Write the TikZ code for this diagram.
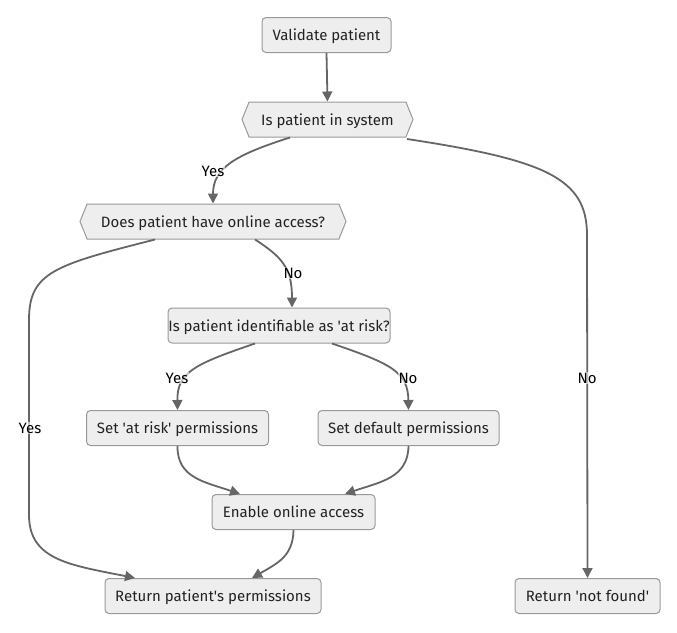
\documentclass[tikz,border=0pt]{standalone}
\usepackage{fontspec}
\setmainfont{Fira Sans}
\usetikzlibrary{arrows.meta,shapes.symbols}
\definecolor{nodefill}{HTML}{EEEEEE}
\definecolor{nodeline}{HTML}{999999}
\definecolor{edgecol}{HTML}{666666}
\definecolor{txtcol}{HTML}{222222}
\newcommand{\sq}{\textquotesingle}
\tikzset{
  box/.style={draw=nodeline, fill=nodefill, line width=1pt, rounded corners=4pt,
    text=txtcol, font=\fontsize{15}{18}\selectfont, inner sep=0pt, minimum height=35pt,
    text height=11pt, text depth=0pt},
  hexa/.style={draw=nodeline, fill=nodefill, line width=1pt, shape=signal,
    signal from=nowhere, signal to=east and west, signal pointer angle=136,
    text=txtcol, font=\fontsize{15}{18}\selectfont, inner sep=0pt, minimum height=35pt,
    text height=11pt, text depth=0pt},
  edge/.style={draw=edgecol, line width=1.8pt, -{Triangle[length=10pt,width=10pt]}},
  elabel/.style={fill=white, fill opacity=0.6, text opacity=1, text=black,
    font=\fontsize{15}{18}\selectfont, inner sep=1pt}
}
\begin{document}
\begin{tikzpicture}[x=1pt,y=-1pt]
\useasboundingbox (0,0) rectangle (677,632);
\node[box, minimum width=129pt] (v) at (326.5,35) {Validate patient};
\node[hexa, minimum width=171pt] (q1) at (327.5,119.5) {Is patient in system};
\node[hexa, minimum width=266pt] (q2) at (213,221.5) {Does patient have online access?};
\node[box, minimum width=222pt] (q3) at (279,325.5) {Is patient identifiable as \sq at risk?};
\node[box, minimum width=182pt] (a1) at (177.5,428) {Set \sq at risk\sq\ permissions};
\node[box, minimum width=181pt] (d1) at (408.5,428) {Set default permissions};
\node[box, minimum width=163pt] (en) at (293.5,512) {Enable online access};
\node[box, minimum width=216pt] (rp) at (213,596) {Return patient\sq s permissions};
\node[box, minimum width=145pt] (nf) at (587.5,596) {Return \sq not found\sq};

% edges
\draw[edge] (v.south) -- (q1.north);
\draw[edge] ([xshift=-37.5pt]q1.south) .. controls (235,155) and (213,168) .. (q2.north);
\draw[edge] ([xshift=79.5pt,yshift=-1.5pt]q1.south) .. controls (545,160) and (587,178) .. (587,235) -- (nf.north);
\draw[edge] ([xshift=-58pt]q2.south) .. controls (55,265) and (29,272) .. (29,320) -- (29,515) .. controls (29,560) and (70,565) .. ([xshift=-78pt]rp.north);
\draw[edge] ([xshift=42pt]q2.south) .. controls (282,257) and (292,268) .. ([xshift=13pt]q3.north);
\draw[edge] ([xshift=-24pt]q3.south) .. controls (195,364) and (177,372) .. (a1.north);
\draw[edge] ([xshift=53pt]q3.south) .. controls (392,364) and (408,372) .. (d1.north);
\draw[edge] (a1.south) .. controls (177,478) and (205,482) .. ([xshift=-53.5pt]en.north);
\draw[edge] (d1.south) .. controls (408,478) and (380,482) .. ([xshift=51.5pt]en.north);
\draw[edge] (en.south) .. controls (293,556) and (278,563) .. ([xshift=39pt]rp.north);

% labels
\node[elabel] (l1) at (213,171) {Yes};
\node[elabel] (l2) at (587,378) {No};
\node[elabel] (l3) at (30,428) {Yes};
\node[elabel] (l4) at (293,273) {No};
\node[elabel] (l5) at (177,378) {Yes};
\node[elabel] (l6) at (408,378) {No};
\end{tikzpicture}
\end{document}
